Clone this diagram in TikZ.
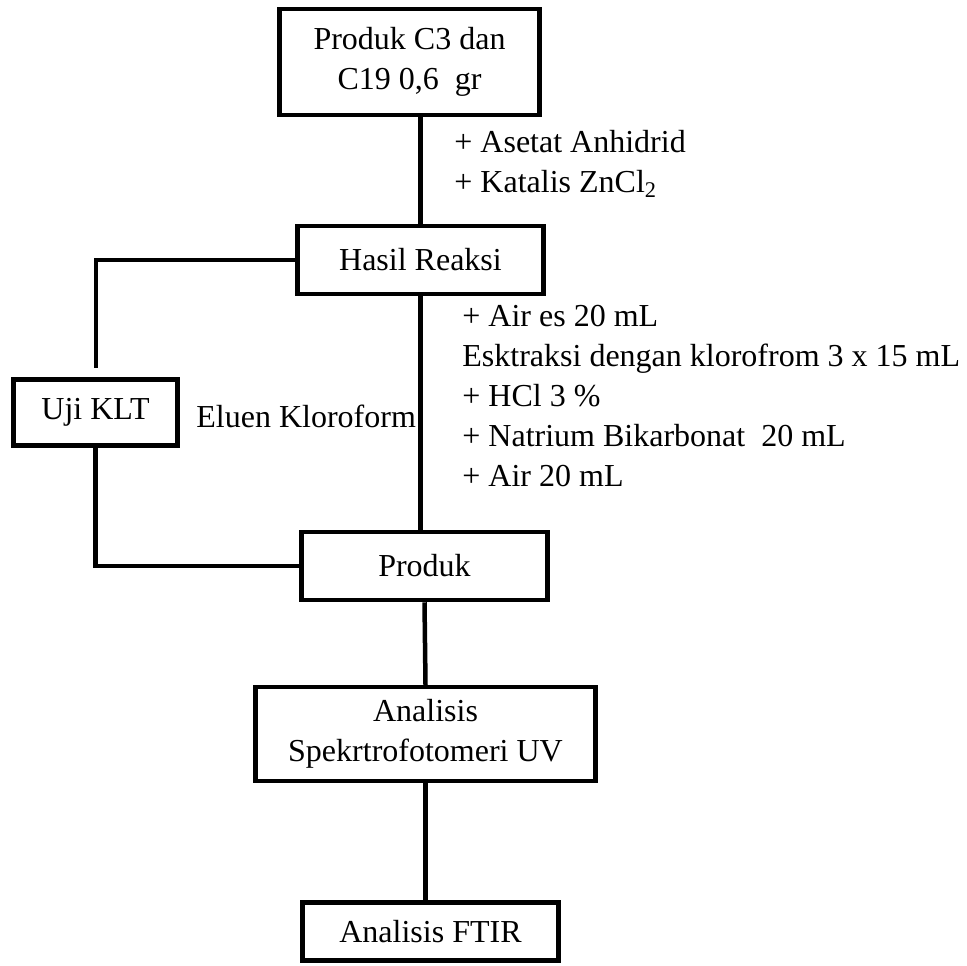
\documentclass[tikz,border=0pt]{standalone}
\usepackage{fontspec}
\setmainfont{Liberation Serif}
\tikzset{
  kotak/.style={draw, line width=2.25pt, inner sep=0pt, align=center},
  garis/.style={line width=2.25pt},
  ket/.style={inner sep=0pt, align=left, anchor=north west},
}
\begin{document}
\begin{tikzpicture}[x=0.5pt,y=-0.5pt]
    \useasboundingbox (0,0) rectangle (967,965);
    \begin{scope}[font=\fontsize{16}{20}\selectfont]
    % Kotak:
    % Semua kotak diletakkan pada koordinat tetap:
    \node[kotak, minimum width=130pt, minimum height=53pt] (awal) at (409.5,62) {Produk C3 dan\\C19 0,6~~gr};
    \node[kotak, minimum width=123pt, minimum height=34pt] (hasil) at (420.5,260) {Hasil Reaksi};
    \node[kotak, minimum width=82pt, minimum height=33pt] (klt) at (95.5,412.5) {Uji KLT};
    \node[kotak, minimum width=123pt, minimum height=34pt] (produk) at (424.5,566) {Produk};
    \node[kotak, minimum width=170pt, minimum height=47pt] (spek) at (425.5,734) {Analisis\\Spekrtrofotomeri UV};
    \node[kotak, minimum width=128pt, minimum height=29pt] (ftir) at (430.5,931.5) {Analisis FTIR};

    % Keterangan:
    \node[ket] (reagen) at (454,130) {+ Asetat Anhidrid\\+ Katalis ZnCl\textsubscript{2}};
    \node[ket] (kerja) at (462,305) {+ Air es 20 mL\\Esktraksi dengan klorofrom 3 x 15 mL\\+ HCl 3 \%\\+ Natrium Bikarbonat~~20 mL\\+ Air 20 mL};
    \node[inner sep=0pt, anchor=base west] (eluen) at (196,427) {Eluen Kloroform};

    % Garis:
    \draw[garis] (awal.south -| hasil.north) -- (hasil.north);
    \draw[garis] (hasil.south) -- (hasil.south |- produk.north);
    \coordinate (kltatas) at (96,368);
    \draw[garis] (hasil.west) -| (kltatas);
    \draw[garis] (klt.south) |- (produk.west);
    \draw[garis] (produk.south) -- (spek.north);
    \draw[garis] (spek.south) -- (spek.south |- ftir.north);
    \end{scope}
\end{tikzpicture}
\end{document}
